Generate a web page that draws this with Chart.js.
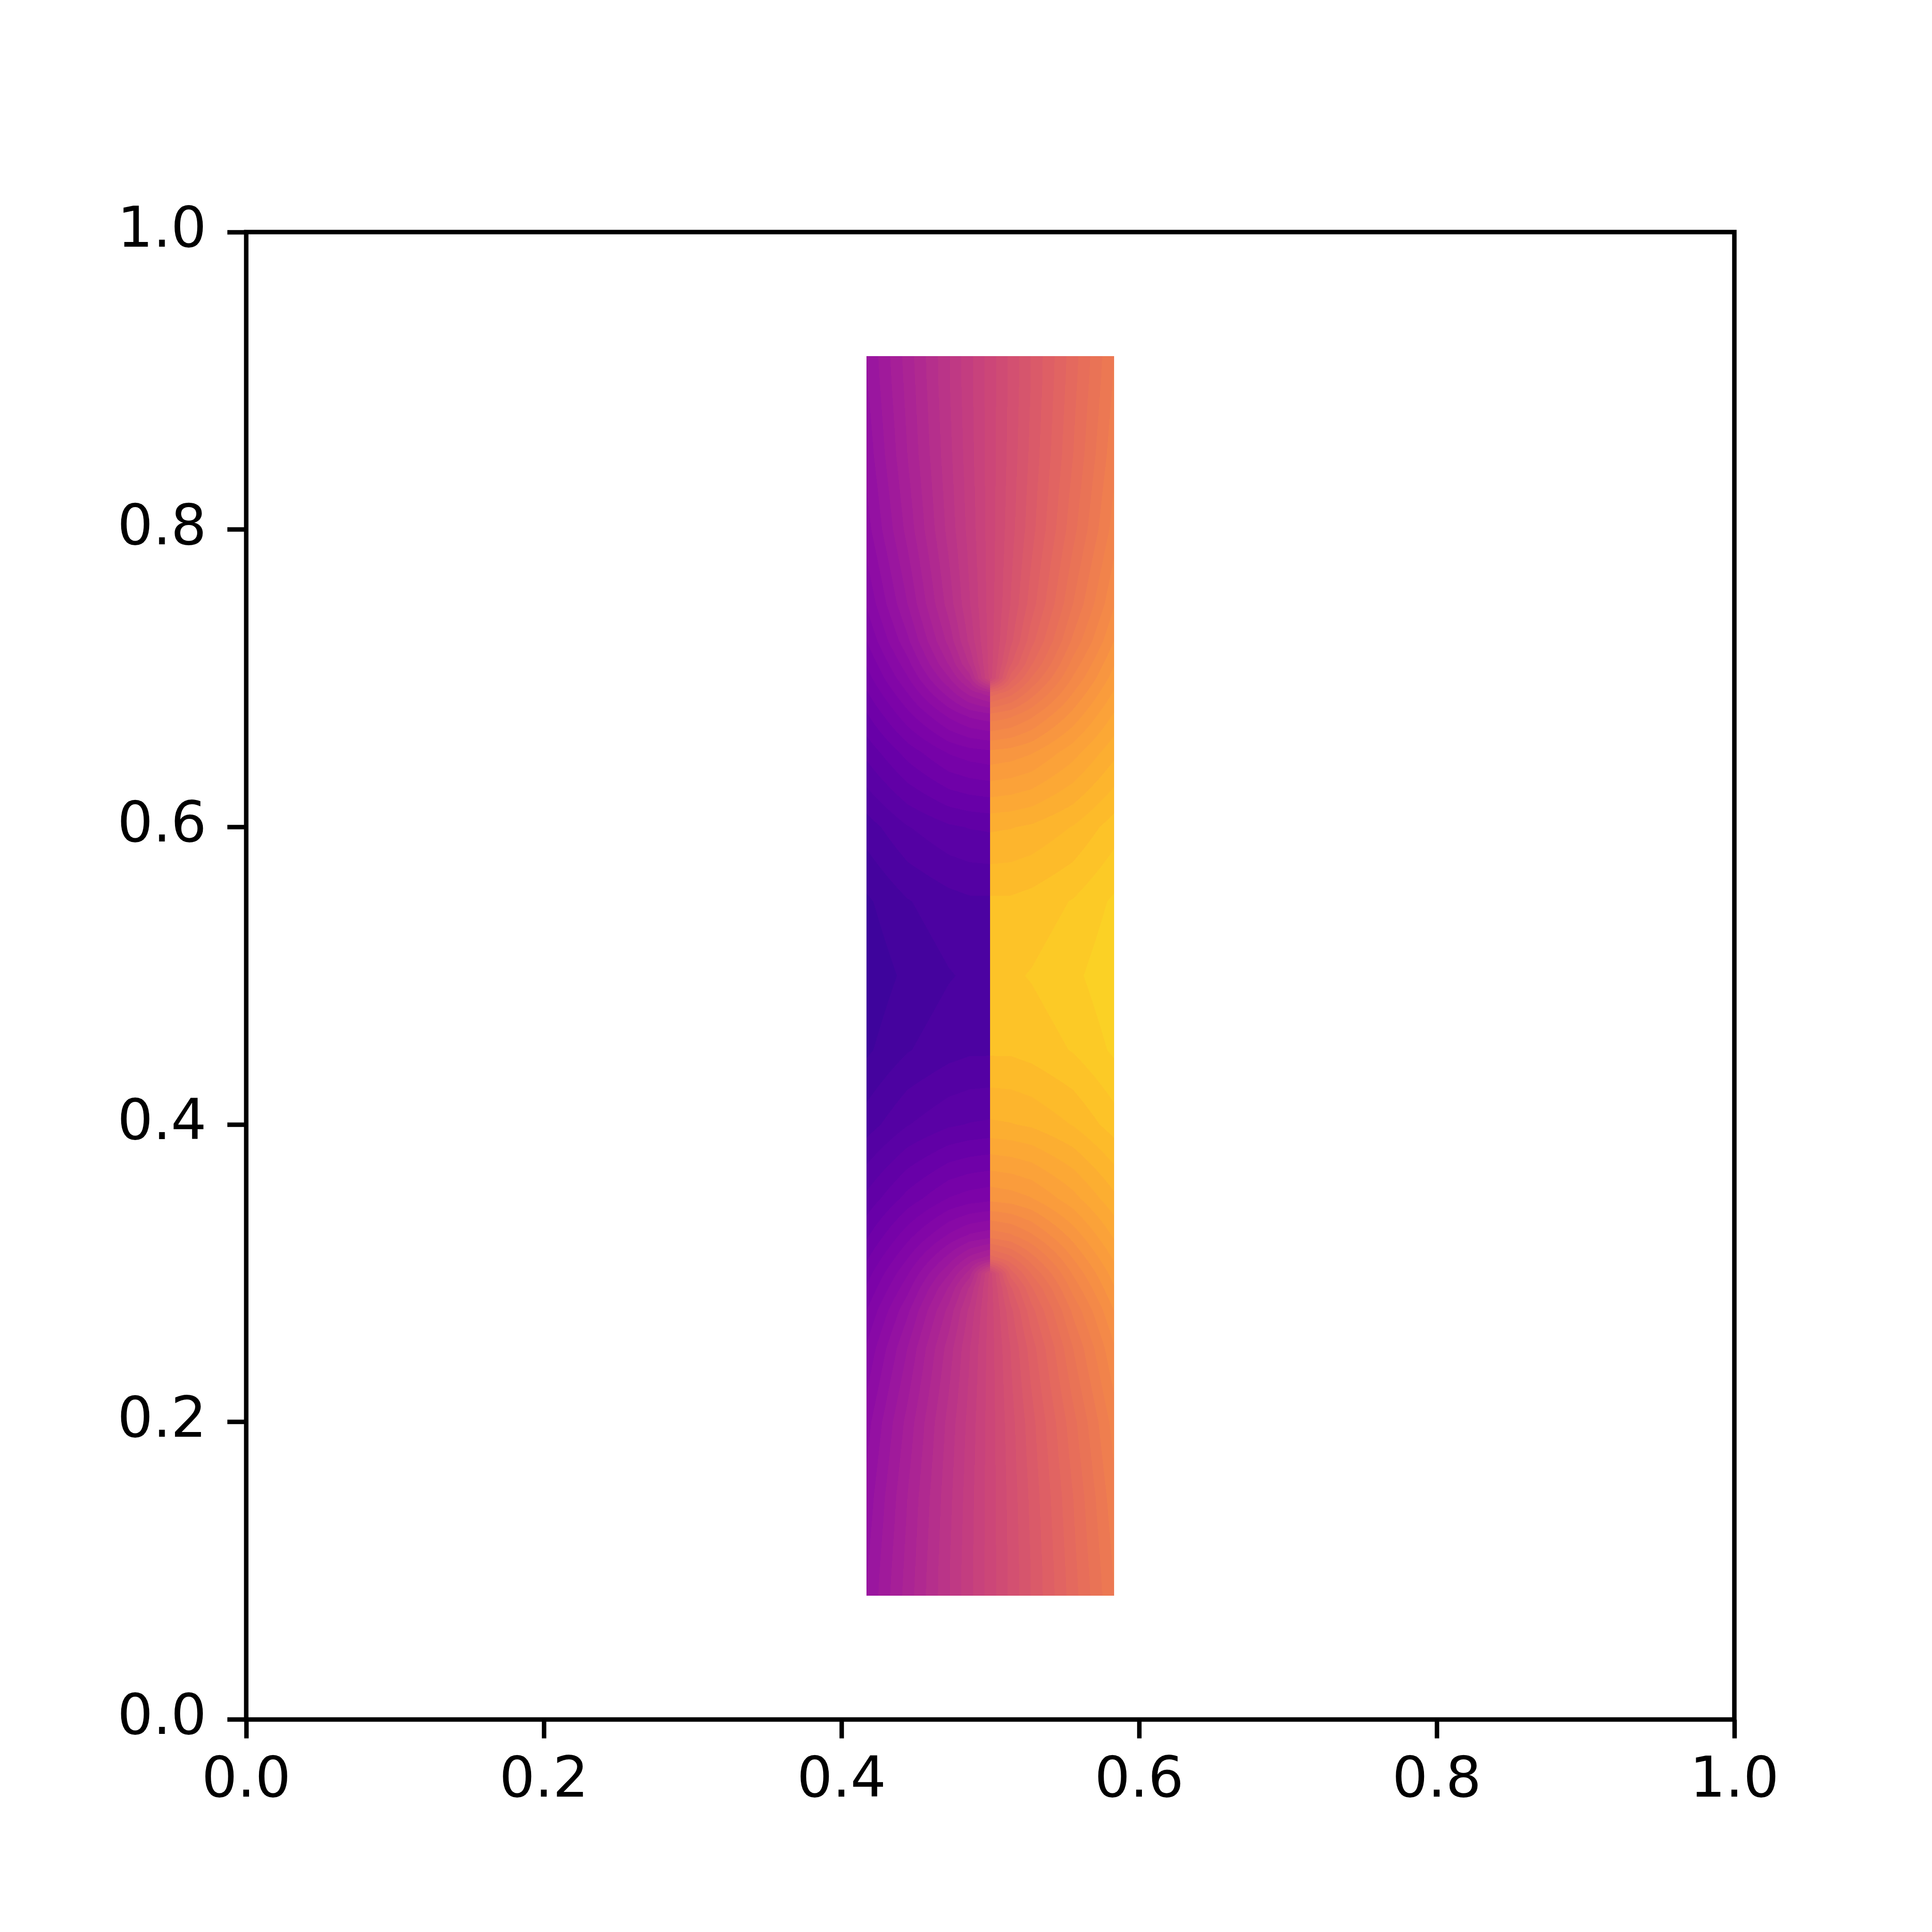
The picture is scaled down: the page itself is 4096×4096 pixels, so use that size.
<!DOCTYPE html>
<html>
<head>
<meta charset="utf-8">
<script src="https://cdn.jsdelivr.net/npm/chart.js@4.4.1/dist/chart.umd.min.js"></script>
<style>
  html, body { margin: 0; padding: 0; background: #fff; }
  canvas { display: block; }
</style>
</head>
<body>
<canvas id="myChart" width="4096" height="4096"></canvas>
<script>
const ctx = document.getElementById('myChart');

// tick positions
const xTicks = [0, 0.2, 0.4, 0.6, 0.8, 1.0];
const yTicks = [0, 0.2, 0.4, 0.6, 0.8, 1.0];

// grid nodes of the filled field; x = 0.5 appears twice (left / right side of the cut)
const gridX = [0.4167, 0.4444, 0.4722, 0.4861, 0.5, 0.5, 0.5139, 0.5278, 0.5556, 0.5833];
const gridY = [0.0833, 0.1, 0.15, 0.2, 0.25, 0.275, 0.29, 0.3, 0.31, 0.325, 0.35, 0.4, 0.45, 0.5,
               0.55, 0.6, 0.65, 0.675, 0.69, 0.7, 0.71, 0.725, 0.75, 0.8, 0.85, 0.9, 0.9167];
const cutX = 0.5;

// field values at the nodes, one row per gridY entry (bottom to top)
const fieldValues = [
  [-0.094, -0.063, -0.032, -0.016, 0, 0, 0.016, 0.032, 0.063, 0.094],
  [-0.095, -0.064, -0.032, -0.016, 0, 0, 0.016, 0.032, 0.064, 0.095],
  [-0.100, -0.067, -0.034, -0.017, 0, 0, 0.017, 0.034, 0.067, 0.100],
  [-0.107, -0.073, -0.037, -0.019, 0, 0, 0.019, 0.037, 0.073, 0.107],
  [-0.120, -0.085, -0.045, -0.023, 0, 0, 0.023, 0.045, 0.085, 0.120],
  [-0.130, -0.096, -0.055, -0.029, 0, 0, 0.029, 0.055, 0.096, 0.130],
  [-0.138, -0.106, -0.066, -0.039, 0, 0, 0.039, 0.066, 0.106, 0.138],
  [-0.143, -0.113, -0.077, -0.054, 0, 0, 0.054, 0.077, 0.113, 0.143],
  [-0.149, -0.121, -0.090, -0.073, -0.062, 0.062, 0.073, 0.090, 0.121, 0.149],
  [-0.158, -0.133, -0.110, -0.101, -0.097, 0.097, 0.101, 0.110, 0.133, 0.158],
  [-0.172, -0.153, -0.138, -0.134, -0.132, 0.132, 0.134, 0.138, 0.153, 0.172],
  [-0.197, -0.184, -0.176, -0.174, -0.173, 0.173, 0.174, 0.176, 0.184, 0.197],
  [-0.212, -0.202, -0.196, -0.194, -0.194, 0.194, 0.194, 0.196, 0.202, 0.212],
  [-0.217, -0.208, -0.202, -0.200, -0.200, 0.200, 0.200, 0.202, 0.208, 0.217],
  [-0.212, -0.202, -0.196, -0.194, -0.194, 0.194, 0.194, 0.196, 0.202, 0.212],
  [-0.197, -0.184, -0.176, -0.174, -0.173, 0.173, 0.174, 0.176, 0.184, 0.197],
  [-0.172, -0.153, -0.138, -0.134, -0.132, 0.132, 0.134, 0.138, 0.153, 0.172],
  [-0.158, -0.133, -0.110, -0.101, -0.097, 0.097, 0.101, 0.110, 0.133, 0.158],
  [-0.149, -0.121, -0.090, -0.073, -0.062, 0.062, 0.073, 0.090, 0.121, 0.149],
  [-0.143, -0.113, -0.077, -0.054, 0, 0, 0.054, 0.077, 0.113, 0.143],
  [-0.138, -0.106, -0.066, -0.039, 0, 0, 0.039, 0.066, 0.106, 0.138],
  [-0.130, -0.096, -0.055, -0.029, 0, 0, 0.029, 0.055, 0.096, 0.130],
  [-0.120, -0.085, -0.045, -0.023, 0, 0, 0.023, 0.045, 0.085, 0.120],
  [-0.107, -0.073, -0.037, -0.019, 0, 0, 0.019, 0.037, 0.073, 0.107],
  [-0.100, -0.067, -0.034, -0.017, 0, 0, 0.017, 0.034, 0.067, 0.100],
  [-0.095, -0.064, -0.032, -0.016, 0, 0, 0.016, 0.032, 0.064, 0.095],
  [-0.094, -0.063, -0.032, -0.016, 0, 0, 0.016, 0.032, 0.063, 0.094]
];

// colour levels
const vmin = -0.264;
const vmax = 0.264;
const nLevels = 59;

const plasma = ['#0d0887', '#2a0593', '#41049d', '#5601a4', '#6a00a8', '#7e03a8', '#8f0da4',
  '#a11b9b', '#b12a90', '#bf3984', '#cc4678', '#d6556d', '#e16462', '#e97257', '#f1824c',
  '#f89441', '#fca636', '#fdb92b', '#fcce25', '#f7e225', '#f0f921'];

function hexToRgb(h) {
  return [parseInt(h.substr(1, 2), 16), parseInt(h.substr(3, 2), 16), parseInt(h.substr(5, 2), 16)];
}

function plasmaAt(t) {
  const p = Math.min(Math.max(t, 0), 1) * (plasma.length - 1);
  const i = Math.min(Math.floor(p), plasma.length - 2);
  const f = p - i;
  const a = hexToRgb(plasma[i]);
  const b = hexToRgb(plasma[i + 1]);
  return [0, 1, 2].map(k => Math.round(a[k] + (b[k] - a[k]) * f));
}

const bandColors = [];
for (let k = 0; k < nLevels; k++) bandColors.push(plasmaAt((k + 0.5) / nLevels));

function findCell(arr, v, lo, hi) {
  let i = lo;
  while (i < hi - 1 && v > arr[i + 1]) i++;
  return i;
}

const fieldPlugin = {
  id: 'field',
  beforeDatasetsDraw(chart) {
    const xs = chart.scales.x;
    const ys = chart.scales.y;
    const c = chart.ctx;
    const x0 = Math.round(xs.getPixelForValue(gridX[0]));
    const x1 = Math.round(xs.getPixelForValue(gridX[gridX.length - 1]));
    const y0 = Math.round(ys.getPixelForValue(gridY[gridY.length - 1]));
    const y1 = Math.round(ys.getPixelForValue(gridY[0]));
    const w = x1 - x0;
    const h = y1 - y0;
    const img = c.createImageData(w, h);
    const bw = (vmax - vmin) / nLevels;
    const half = gridX.length / 2;

    for (let j = 0; j < h; j++) {
      const yv = ys.getValueForPixel(y0 + j + 0.5);
      const r = findCell(gridY, yv, 0, gridY.length - 1);
      let ty = (yv - gridY[r]) / (gridY[r + 1] - gridY[r]);
      ty = Math.min(Math.max(ty, 0), 1);
      for (let i = 0; i < w; i++) {
        const xv = xs.getValueForPixel(x0 + i + 0.5);
        const lo = xv < cutX ? 0 : half;
        const col = findCell(gridX, xv, lo, lo + half - 1);
        let tx = (xv - gridX[col]) / (gridX[col + 1] - gridX[col]);
        tx = Math.min(Math.max(tx, 0), 1);
        const a = fieldValues[r][col] * (1 - tx) + fieldValues[r][col + 1] * tx;
        const b = fieldValues[r + 1][col] * (1 - tx) + fieldValues[r + 1][col + 1] * tx;
        const f = a * (1 - ty) + b * ty;
        let k = Math.floor((f - vmin) / bw);
        k = Math.min(Math.max(k, 0), nLevels - 1);
        const rgb = bandColors[k];
        const o = (j * w + i) * 4;
        img.data[o] = rgb[0];
        img.data[o + 1] = rgb[1];
        img.data[o + 2] = rgb[2];
        img.data[o + 3] = 255;
      }
    }
    c.putImageData(img, x0, y0);
  },
  afterDraw(chart) {
    const a = chart.chartArea;
    const c = chart.ctx;
    c.save();
    c.lineWidth = 9.5;
    c.strokeStyle = '#000';
    c.strokeRect(a.left, a.top, a.right - a.left, a.bottom - a.top);
    c.restore();
  }
};

const tickFont = { family: 'DejaVu Sans', size: 119 };

new Chart(ctx, {
  type: 'scatter',
  data: { datasets: [{ data: [], pointRadius: 0 }] },
  options: {
    responsive: false,
    animation: false,
    devicePixelRatio: 1,
    layout: { padding: { top: 492, right: 419, left: 0, bottom: 0 } },
    plugins: { legend: { display: false }, tooltip: { enabled: false } },
    scales: {
      x: {
        type: 'linear',
        position: 'bottom',
        min: 0,
        max: 1,
        afterBuildTicks: s => { s.ticks = xTicks.map(v => ({ value: v })); },
        afterFit: s => { s.height = 450.5; },
        ticks: {
          callback: v => v.toFixed(1),
          font: tickFont,
          color: '#000',
          padding: 21,
          maxRotation: 0,
          autoSkip: false
        },
        grid: { drawOnChartArea: false, drawTicks: true, tickLength: 40, tickWidth: 9.5, tickColor: '#000' },
        border: { display: false }
      },
      y: {
        type: 'linear',
        position: 'left',
        min: 0,
        max: 1,
        afterBuildTicks: s => { s.ticks = yTicks.map(v => ({ value: v })); },
        afterFit: s => { s.width = 522; },
        ticks: {
          callback: v => v.toFixed(1),
          font: tickFont,
          color: '#000',
          padding: 44,
          autoSkip: false
        },
        grid: { drawOnChartArea: false, drawTicks: true, tickLength: 40, tickWidth: 9.5, tickColor: '#000' },
        border: { display: false }
      }
    }
  },
  plugins: [fieldPlugin]
});
</script>
</body>
</html>
